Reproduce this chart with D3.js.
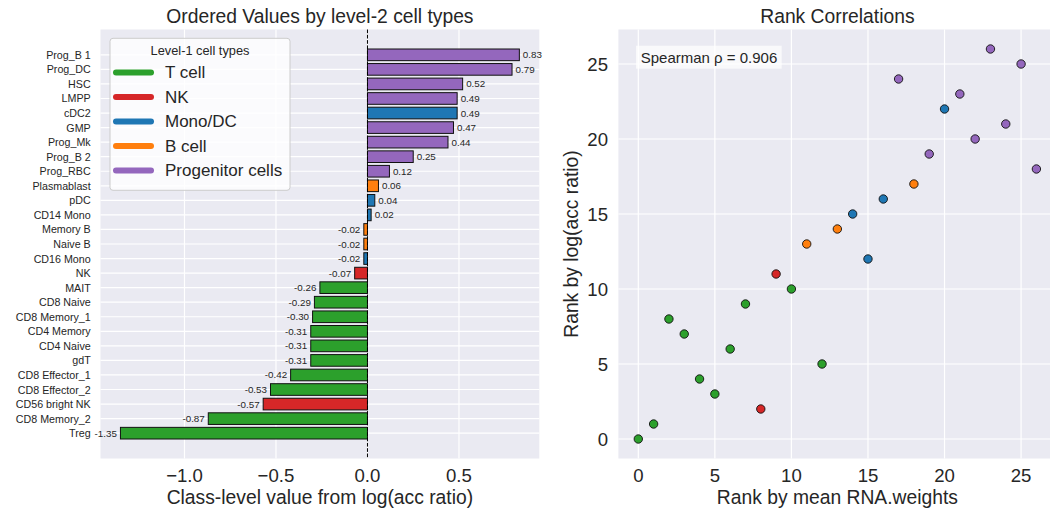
<!DOCTYPE html>
<html>
<head>
<meta charset="utf-8">
<script src="https://cdn.jsdelivr.net/npm/d3@7"></script>
<style>
  html, body { margin: 0; padding: 0; background: #fff; }
  svg { display: block; font-family: "Liberation Sans", Arial, sans-serif; }
</style>
</head>
<body>
<svg id="fig" width="1050" height="509"></svg>
<script>
// Level-2 cell types, ordered by class-level value (top to bottom)
const categories = ["Prog_B 1","Prog_DC","HSC","LMPP","cDC2","GMP","Prog_Mk","Prog_B 2","Prog_RBC",
  "Plasmablast","pDC","CD14 Mono","Memory B","Naive B","CD16 Mono","NK","MAIT","CD8 Naive",
  "CD8 Memory_1","CD4 Memory","CD4 Naive","gdT","CD8 Effector_1","CD8 Effector_2",
  "CD56 bright NK","CD8 Memory_2","Treg"];
const values = [0.83,0.79,0.52,0.49,0.49,0.47,0.44,0.25,0.12,0.06,0.04,0.02,-0.02,-0.02,-0.02,
  -0.07,-0.26,-0.29,-0.30,-0.31,-0.31,-0.31,-0.42,-0.53,-0.57,-0.87,-1.35];
const groups = ["Progenitor cells","Progenitor cells","Progenitor cells","Progenitor cells","Mono/DC",
  "Progenitor cells","Progenitor cells","Progenitor cells","Progenitor cells","B cell","Mono/DC",
  "Mono/DC","B cell","B cell","Mono/DC","NK","T cell","T cell","T cell","T cell","T cell","T cell",
  "T cell","T cell","NK","T cell","T cell"];
// Ranks used for the correlation panel (same order as categories)
const rnaRank = [23,25,17,21,20,24,22,19,26,18,16,14,13,11,15,9,10,7,2,3,6,12,4,5,8,1,0];
const accRank = [26,25,24,23,22,21,20,19,18,17,16,15,14,13,12,11,10,9,8,7,6,5,4,3,2,1,0];

const level1 = ["T cell","NK","Mono/DC","B cell","Progenitor cells"];
const level1Colors = ["#2ca02c","#d62728","#1f77b4","#ff7f0e","#9467bd"];
const barTicks = [-1.0,-0.5,0.0,0.5];
const rankTicks = [0,5,10,15,20,25];
const spearmanText = "Spearman \u03c1 = 0.906";

const color = d3.scaleOrdinal().domain(level1).range(level1Colors);
const svg = d3.select("#fig");
const TXT = "#262626", BG = "#eaeaf2";

// ---------- Left panel: horizontal bars ----------
const L = {left: 100.5, right: 539.3, top: 29.5, bottom: 458.5};
const n = categories.length;
const vMin = d3.min(values), vMax = d3.max(values), pad = (vMax - vMin) * 0.05;
const x1 = d3.scaleLinear().domain([vMin - pad, vMax + pad]).range([L.left, L.right]);
const yPad = (n - 1 + 0.8) * 0.05;
const y1 = d3.scaleLinear().domain([-0.4 - yPad, n - 1 + 0.4 + yPad]).range([L.top, L.bottom]);
const bh = y1(0.8) - y1(0);

const g1 = svg.append("g");
g1.append("rect").attr("x", L.left).attr("y", L.top)
  .attr("width", L.right - L.left).attr("height", L.bottom - L.top).attr("fill", BG);
g1.selectAll("line.vg").data(barTicks).join("line")
  .attr("x1", d => x1(d)).attr("x2", d => x1(d)).attr("y1", L.top).attr("y2", L.bottom)
  .attr("stroke", "#fff").attr("stroke-width", 1.2);
g1.selectAll("line.hg").data(categories).join("line")
  .attr("x1", L.left).attr("x2", L.right).attr("y1", (d, i) => y1(i)).attr("y2", (d, i) => y1(i))
  .attr("stroke", "#fff").attr("stroke-width", 1.2);

g1.selectAll("rect.bar").data(values).join("rect")
  .attr("x", d => x1(Math.min(0, d))).attr("y", (d, i) => y1(i) - bh / 2)
  .attr("width", d => Math.abs(x1(d) - x1(0))).attr("height", bh)
  .attr("fill", (d, i) => color(groups[i])).attr("stroke", "#111").attr("stroke-width", 1);

g1.selectAll("text.val").data(values).join("text")
  .attr("x", d => d >= 0 ? x1(d) + 3.5 : x1(d) - 3.5).attr("y", (d, i) => y1(i))
  .attr("text-anchor", d => d >= 0 ? "start" : "end").attr("dominant-baseline", "central")
  .attr("font-size", 9.8).attr("fill", TXT).text(d => d.toFixed(2));

g1.append("line").attr("x1", x1(0)).attr("x2", x1(0)).attr("y1", L.top).attr("y2", L.bottom)
  .attr("stroke", "#000").attr("stroke-width", 1).attr("stroke-dasharray", "3.7,1.6");

g1.selectAll("text.cat").data(categories).join("text")
  .attr("x", 90.7).attr("y", (d, i) => y1(i)).attr("text-anchor", "end")
  .attr("dominant-baseline", "central").attr("font-size", 10.7).attr("fill", TXT).text(d => d);

g1.selectAll("text.xt").data(barTicks).join("text")
  .attr("x", d => x1(d)).attr("y", 482).attr("text-anchor", "middle")
  .attr("font-size", 18.6).attr("fill", TXT).text(d => d3.format(".1f")(d).replace("-", "\u2212"));

g1.append("text").attr("x", (L.left + L.right) / 2).attr("y", 504).attr("text-anchor", "middle")
  .attr("font-size", 19.3).attr("fill", TXT).text("Class-level value from log(acc ratio)");
g1.append("text").attr("x", (L.left + L.right) / 2).attr("y", 23).attr("text-anchor", "middle")
  .attr("font-size", 19.3).attr("fill", TXT).text("Ordered Values by level-2 cell types");

// Legend
const lg = g1.append("g");
lg.append("rect").attr("x", 110).attr("y", 38.3).attr("width", 180).attr("height", 152)
  .attr("rx", 3).attr("fill", "#fff").attr("fill-opacity", 0.8)
  .attr("stroke", "#cccccc").attr("stroke-width", 1);
lg.append("text").attr("x", 200).attr("y", 50).attr("text-anchor", "middle")
  .attr("dominant-baseline", "central").attr("font-size", 12.8).attr("fill", TXT)
  .text("Level-1 cell types");
const ly = d3.scaleLinear().domain([0, 1]).range([72.5, 97]);
lg.selectAll("line.li").data(level1).join("line")
  .attr("x1", 116).attr("x2", 151).attr("y1", (d, i) => ly(i)).attr("y2", (d, i) => ly(i))
  .attr("stroke", d => color(d)).attr("stroke-width", 6).attr("stroke-linecap", "round");
lg.selectAll("text.lt").data(level1).join("text")
  .attr("x", 165).attr("y", (d, i) => ly(i)).attr("dominant-baseline", "central")
  .attr("font-size", 17).attr("fill", TXT).text(d => d);

// ---------- Right panel: rank scatter ----------
const R = {left: 618.4, right: 1056.3, top: 29.5, bottom: 458.5};
const rk = d3.max(rnaRank.concat(accRank)), rp = rk * 0.05;
const x2 = d3.scaleLinear().domain([-rp, rk + rp]).range([R.left, R.right]);
const y2 = d3.scaleLinear().domain([-rp, rk + rp]).range([R.bottom, R.top]);

const g2 = svg.append("g");
g2.append("rect").attr("x", R.left).attr("y", R.top)
  .attr("width", R.right - R.left).attr("height", R.bottom - R.top).attr("fill", BG);
g2.selectAll("line.gx").data(rankTicks).join("line")
  .attr("x1", d => x2(d)).attr("x2", d => x2(d)).attr("y1", R.top).attr("y2", R.bottom)
  .attr("stroke", "#fff").attr("stroke-width", 1.2);
g2.selectAll("line.gy").data(rankTicks).join("line")
  .attr("x1", R.left).attr("x2", R.right).attr("y1", d => y2(d)).attr("y2", d => y2(d))
  .attr("stroke", "#fff").attr("stroke-width", 1.2);

g2.selectAll("circle").data(categories).join("circle")
  .attr("cx", (d, i) => x2(rnaRank[i])).attr("cy", (d, i) => y2(accRank[i])).attr("r", 4.2)
  .attr("fill", (d, i) => color(groups[i])).attr("stroke", "#111").attr("stroke-width", 0.9);

g2.append("rect").attr("x", 636).attr("y", 45.7).attr("width", 145.7).attr("height", 23)
  .attr("fill", "#fff").attr("fill-opacity", 0.7);
g2.append("text").attr("x", 640.7).attr("y", 57.2).attr("dominant-baseline", "central")
  .attr("font-size", 15).attr("fill", TXT).text(spearmanText);

g2.selectAll("text.xt").data(rankTicks).join("text")
  .attr("x", d => x2(d)).attr("y", 482).attr("text-anchor", "middle")
  .attr("font-size", 18.6).attr("fill", TXT).text(d => d);
g2.selectAll("text.yt").data(rankTicks).join("text")
  .attr("x", 608).attr("y", d => y2(d)).attr("text-anchor", "end").attr("dominant-baseline", "central")
  .attr("font-size", 18.6).attr("fill", TXT).text(d => d);

g2.append("text").attr("x", 837.4).attr("y", 504).attr("text-anchor", "middle")
  .attr("font-size", 19.3).attr("fill", TXT).text("Rank by mean RNA.weights");
g2.append("text").attr("transform", "translate(578,244) rotate(-90)").attr("text-anchor", "middle")
  .attr("font-size", 19.3).attr("fill", TXT).text("Rank by log(acc ratio)");
g2.append("text").attr("x", 837.4).attr("y", 23).attr("text-anchor", "middle")
  .attr("font-size", 19.3).attr("fill", TXT).text("Rank Correlations");
</script>
</body>
</html>
